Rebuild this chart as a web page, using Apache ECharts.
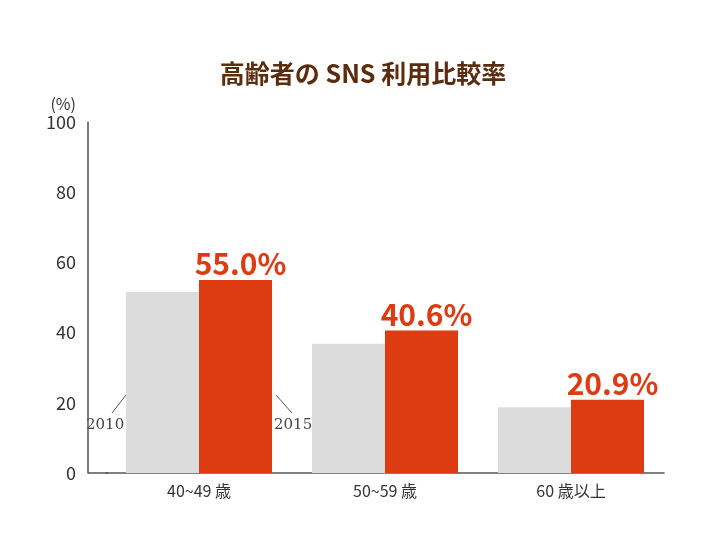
<!DOCTYPE html>
<html><head><meta charset="utf-8">
<script src="https://cdn.jsdelivr.net/npm/echarts@6/dist/echarts.min.js"></script>
<style>html,body{margin:0;background:#fff}#c{width:726px;height:545px}</style>
</head><body><div id="c"></div>
<script>
const categories = ['40~49 歳', '50~59 歳', '60 歳以上'];
const values2010 = [51.6, 36.8, 18.7];
const values2015 = [55.0, 40.6, 20.9];
const yTicks = [0, 20, 40, 60, 80, 100];

const chart = echarts.init(document.getElementById('c'));
const font = '"Noto Sans CJK JP", "Noto Sans", sans-serif';
chart.setOption({
  backgroundColor: '#fff',
  title: { text: '高齢者の SNS 利用比較率', left: 'center', top: 56,
    textStyle: { fontFamily: font, fontSize: 25, fontWeight: 'bold', color: '#5b2c0e' } },
  grid: { left: 106, right: 62, top: 122, bottom: 72 },
  xAxis: { type: 'category', data: categories,
    axisLine: { lineStyle: { color: '#555', width: 1.5 } }, axisTick: { show: false },
    axisLabel: { fontFamily: font, fontSize: 16, color: '#333', margin: 10 } },
  yAxis: { type: 'value', min: 0, max: 100, interval: 20, offset: 18,
    name: '(%)', nameLocation: 'end', nameGap: 10,
    nameTextStyle: { fontFamily: font, fontSize: 16, color: '#333', align: 'right', padding: [0, 12, 0, 0] },
    axisLine: { show: true, lineStyle: { color: '#555', width: 1.5 } },
    axisTick: { show: false }, splitLine: { show: false },
    axisLabel: { fontFamily: font, fontSize: 18, color: '#333', margin: 12,
      formatter: v => yTicks.includes(v) ? String(v) : '' } },
  graphic: [
    { type: 'line', shape: { x1: 88, y1: 473, x2: 108, y2: 473 }, style: { stroke: '#555', lineWidth: 1.5 } },
    { type: 'line', shape: { x1: 112, y1: 413, x2: 126, y2: 395 }, style: { stroke: '#555', lineWidth: 1 } },
    { type: 'text', left: 86, top: 418, style: { text: '2010', font: '15px "DejaVu Serif", serif', fill: '#444' } },
    { type: 'line', shape: { x1: 276, y1: 395, x2: 292, y2: 413 }, style: { stroke: '#555', lineWidth: 1 } },
    { type: 'text', left: 274, top: 418, style: { text: '2015', font: '15px "DejaVu Serif", serif', fill: '#444' } }
  ],
  series: [
    { name: '2010', type: 'bar', data: values2010, barWidth: 73, barGap: '0%',
      itemStyle: { color: '#dcdcdc' } },
    { name: '2015', type: 'bar', data: values2015, barWidth: 73,
      itemStyle: { color: '#dd3b12' },
      label: { show: true, position: 'top', distance: 1, formatter: p => p.value.toFixed(1) + '%',
        offset: [5, 0],
        fontFamily: font, fontSize: 30, fontWeight: 'bold', color: '#dd3b12' } }
  ]
});
</script></body></html>
